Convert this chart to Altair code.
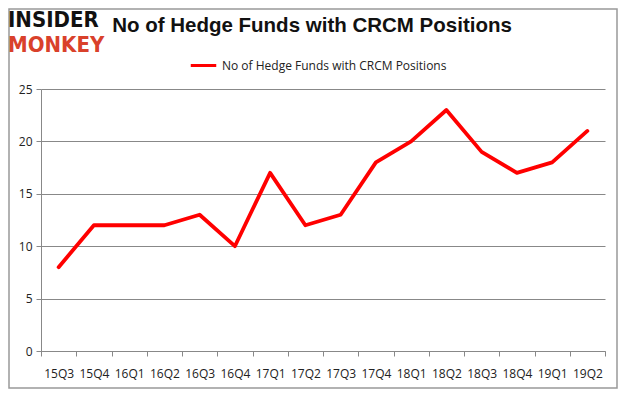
import altair as alt
import pandas as pd

quarters = ["15Q3", "15Q4", "16Q1", "16Q2", "16Q3", "16Q4", "17Q1", "17Q2",
            "17Q3", "17Q4", "18Q1", "18Q2", "18Q3", "18Q4", "19Q1", "19Q2"]
funds = [8, 12, 12, 12, 13, 10, 17, 12, 13, 18, 20, 23, 19, 17, 18, 21]
series_name = "No of Hedge Funds with CRCM Positions"

df = pd.DataFrame({"quarter": quarters, "funds": funds, "series": series_name})

W, H = 564, 262
FONT = "Open Sans"
LOGO_FONT = "Liberation Sans Narrow, DejaVu Sans Condensed, DejaVu Sans"

line = alt.Chart(df).mark_line(strokeWidth=3.8, strokeJoin="round", strokeCap="round").encode(
    x=alt.X("quarter:N", sort=quarters, title=None,
            scale=alt.Scale(paddingInner=0, paddingOuter=0),
            axis=alt.Axis(labelAngle=0, tickBand="extent", grid=False,
                          domainColor="#888888", tickColor="#888888", tickSize=5,
                          labelPadding=12, labelFontSize=12, labelColor="#222222",
                          labelFont=FONT)),
    y=alt.Y("funds:Q", title=None,
            scale=alt.Scale(domain=[0, 25]),
            axis=alt.Axis(values=[0, 5, 10, 15, 20, 25], grid=True, gridColor="#888888",
                          domainColor="#888888", tickColor="#888888", tickSize=5,
                          labelPadding=4, labelFontSize=12, labelColor="#222222",
                          labelFont=FONT)),
    color=alt.Color("series:N", scale=alt.Scale(range=["#ff0000"]),
                    legend=alt.Legend(title=None, orient="none", legendX=148, legendY=-38,
                                      symbolType="stroke", symbolStrokeWidth=3,
                                      symbolSize=650, labelFontSize=12, labelFont=FONT,
                                      labelColor="#222222", labelLimit=0)),
)

border = alt.Chart(pd.DataFrame({"a": [0]})).mark_rect(
    fill="white", fillOpacity=0, stroke="#999999", strokeWidth=1.5).encode(
    x=alt.value(-32), x2=alt.value(W + 12), y=alt.value(-80), y2=alt.value(H + 37))

logo_top = alt.Chart(pd.DataFrame({"t": ["INSIDER"]})).mark_text(
    font=LOGO_FONT, fontWeight="bold", fontSize=22, color="#111111", align="left",
    baseline="alphabetic").encode(text="t:N", x=alt.value(-33), y=alt.value(-62))
logo_bot = alt.Chart(pd.DataFrame({"t": ["MONKEY"]})).mark_text(
    font=LOGO_FONT, fontWeight="bold", fontSize=22, color="#d9412b", align="left",
    baseline="alphabetic").encode(text="t:N", x=alt.value(-33), y=alt.value(-37))
title = alt.Chart(pd.DataFrame({"t": ["No of Hedge Funds with CRCM Positions"]})).mark_text(
    font="Liberation Sans", fontWeight="bold", fontSize=20.5, color="#111111", align="center",
    baseline="middle").encode(text="t:N", x=alt.value(271), y=alt.value(-63))

chart = alt.layer(border, line, logo_top, logo_bot, title).properties(
    width=W, height=H,
    autosize=alt.AutoSizeParams(type="none"),
    padding={"left": 33, "top": 81, "right": 13, "bottom": 38},
    background="white",
).configure_view(stroke=None)

chart.save("out.html", embed_options={"renderer": "svg", "actions": False})
